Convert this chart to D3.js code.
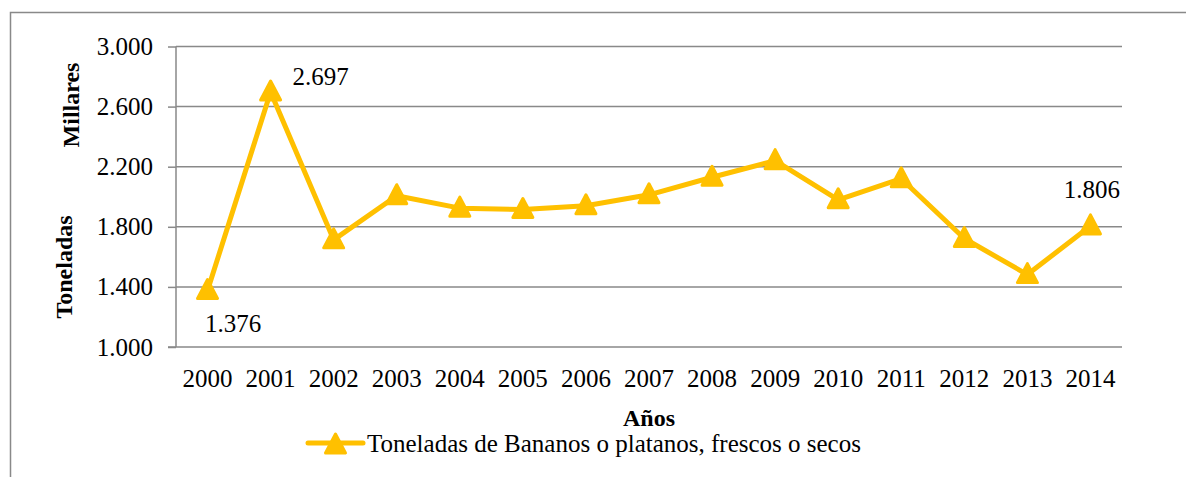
<!DOCTYPE html>
<html><head><meta charset="utf-8">
<script src="https://cdn.jsdelivr.net/npm/d3@7"></script>
<style>body{margin:0;background:#fff}svg{display:block}text{font-family:"Liberation Serif","Times New Roman",serif;fill:#000}</style>
</head><body><svg id="c" width="1186" height="477"></svg>
<script>
const years = ["2000","2001","2002","2003","2004","2005","2006","2007","2008","2009","2010","2011","2012","2013","2014"];
const values = [1376,2697,1713,2007,1924,1915,1940,2013,2130,2240,1980,2120,1722,1482,1806];
const yTicks = [1000,1400,1800,2200,2600,3000];
const labeled = {"2000":"1.376","2001":"2.697","2014":"1.806"};
const seriesName = "Toneladas de Bananos o platanos, frescos o secos";

const svg = d3.select("#c");
const m = {l:176, r:1122, t:46.5, b:347};
const x = d3.scaleBand().domain(years).range([m.l, m.r]);
const y = d3.scaleLinear().domain([1000,3000]).range([m.b, m.t]);
const fmt = v => d3.format(",")(v).replace(/,/g,".");
const gold = "#FFC000", grid = "#898989";
const FS = "25px";

// outer border
svg.append("rect").attr("x",10.5).attr("y",12.5).attr("width",1200).attr("height",500)
  .attr("fill","none").attr("stroke",grid).attr("stroke-width",1.5);

// gridlines
svg.append("g").selectAll("line").data(yTicks.slice(1)).join("line")
  .attr("x1",m.l).attr("x2",m.r).attr("y1",d=>y(d)).attr("y2",d=>y(d))
  .attr("stroke",grid).attr("stroke-width",1.5);

// y axis
const ya = svg.append("g").attr("transform",`translate(${m.l},0)`)
  .call(d3.axisLeft(y).tickValues(yTicks).tickFormat(fmt).tickSize(8).tickPadding(15));
ya.select(".domain").attr("stroke",grid).attr("stroke-width",1.5).attr("d",`M0,${m.t}V${m.b}`);
ya.selectAll(".tick line").attr("stroke",grid).attr("stroke-width",1.5);
ya.selectAll(".tick text").style("font-size",FS).attr("font-family","Liberation Serif").attr("fill","#000");

// x axis
const xa = svg.append("g").attr("transform",`translate(0,${m.b})`)
  .call(d3.axisBottom(x).tickSize(0).tickPadding(22));
xa.select(".domain").attr("stroke",grid).attr("stroke-width",1.5).attr("d",`M${m.l-8},0H${m.r}`);
xa.selectAll(".tick text").style("font-size",FS).attr("font-family","Liberation Serif").attr("fill","#000");

// line
const cx = d => x(d) + x.bandwidth()/2;
svg.append("path").datum(years.map((d,i)=>[cx(d), y(values[i])]))
  .attr("d", d3.line()).attr("fill","none").attr("stroke",gold).attr("stroke-width",5).attr("stroke-linejoin","round");

// markers
const tri = "M0,-11L10,8L-10,8Z";
svg.append("g").selectAll("path").data(years).join("path")
  .attr("transform",(d,i)=>`translate(${cx(d)},${y(values[i])})`)
  .attr("d",tri).attr("fill",gold).attr("stroke",gold).attr("stroke-width",3).attr("stroke-linejoin","round");

// data labels
const lbl = svg.append("g").style("font-size",FS);
lbl.append("text").attr("x",cx("2000")-2.5).attr("y",y(values[0])+41).text(labeled["2000"]);
lbl.append("text").attr("x",cx("2001")+22).attr("y",y(values[1])-7).text(labeled["2001"]);
lbl.append("text").attr("x",cx("2014")+29.5).attr("y",y(values[14])-28).attr("text-anchor","end").text(labeled["2014"]);

// axis titles
svg.append("text").attr("x",(m.l+m.r)/2).attr("y",426).attr("text-anchor","middle")
  .style("font-size","24px").style("font-weight","bold").text("Años");
svg.append("text").attr("transform","translate(79,105) rotate(-90)").attr("text-anchor","middle")
  .style("font-size","24px").style("font-weight","bold").text("Millares");
svg.append("text").attr("transform","translate(72,267) rotate(-90)").attr("text-anchor","middle")
  .style("font-size","24px").style("font-weight","bold").text("Toneladas");

// legend
const lg = svg.append("g");
lg.append("line").attr("x1",308).attr("x2",363).attr("y1",443).attr("y2",443)
  .attr("stroke",gold).attr("stroke-width",5).attr("stroke-linecap","round");
lg.append("path").attr("transform","translate(335.5,445)").attr("d",tri)
  .attr("fill",gold).attr("stroke",gold).attr("stroke-width",3).attr("stroke-linejoin","round");
lg.append("text").attr("x",367).attr("y",452).style("font-size",FS).text(seriesName);
</script></body></html>
